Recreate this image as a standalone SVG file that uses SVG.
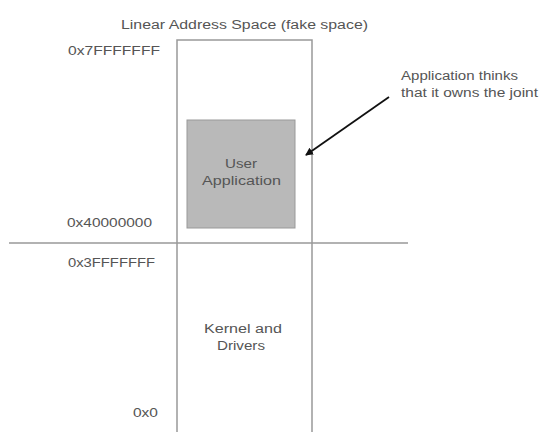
<svg xmlns="http://www.w3.org/2000/svg" width="539" height="432" viewBox="0 0 539 432">
<style>
text{font-family:"Liberation Sans",Arial,sans-serif;font-size:12px;fill:#555}
.c{text-anchor:middle}
.r{text-anchor:end}
.ln{stroke:#999;stroke-width:1.5;fill:none}
</style>
<defs>
<marker id="ah" markerWidth="8" markerHeight="8" refX="7" refY="4" orient="auto" markerUnits="userSpaceOnUse">
<path d="M0,0 L8,4 L0,8 z" fill="#111"/>
</marker>
</defs>
<rect width="539" height="432" fill="#fff"/>
<g id="title"><text x="121" y="29" textLength="247" lengthAdjust="spacingAndGlyphs">Linear Address Space (fake space)</text></g>
<g id="column"><rect class="ln" x="177" y="40" width="135" height="400"/></g>
<g id="divider"><line class="ln" x1="9" y1="243" x2="408" y2="243"/></g>
<g id="labels">
<text x="68" y="55" textLength="92" lengthAdjust="spacingAndGlyphs">0x7FFFFFFF</text>
<text x="67" y="227" textLength="85" lengthAdjust="spacingAndGlyphs">0x40000000</text>
<text x="68" y="267" textLength="87" lengthAdjust="spacingAndGlyphs">0x3FFFFFFF</text>
<text x="133" y="417" textLength="25" lengthAdjust="spacingAndGlyphs">0x0</text>
</g>
<g id="user-app">
<rect x="187" y="120" width="108" height="108" fill="#b9b9b9" stroke="#999" stroke-width="1"/>
<text x="225" y="168" textLength="32" lengthAdjust="spacingAndGlyphs">User</text>
<text x="202" y="185" textLength="79" lengthAdjust="spacingAndGlyphs">Application</text>
</g>
<g id="kernel">
<text x="204" y="333" textLength="78" lengthAdjust="spacingAndGlyphs">Kernel and</text>
<text x="217" y="350" textLength="48" lengthAdjust="spacingAndGlyphs">Drivers</text>
</g>
<g id="note">
<text x="401" y="80" textLength="117" lengthAdjust="spacingAndGlyphs">Application thinks</text>
<text x="401" y="97" textLength="137" lengthAdjust="spacingAndGlyphs">that it owns the joint</text>
</g>
<g id="connectors">
<line x1="389" y1="97" x2="306" y2="155" stroke="#111" stroke-width="1.8" marker-end="url(#ah)"/>
</g>
</svg>
